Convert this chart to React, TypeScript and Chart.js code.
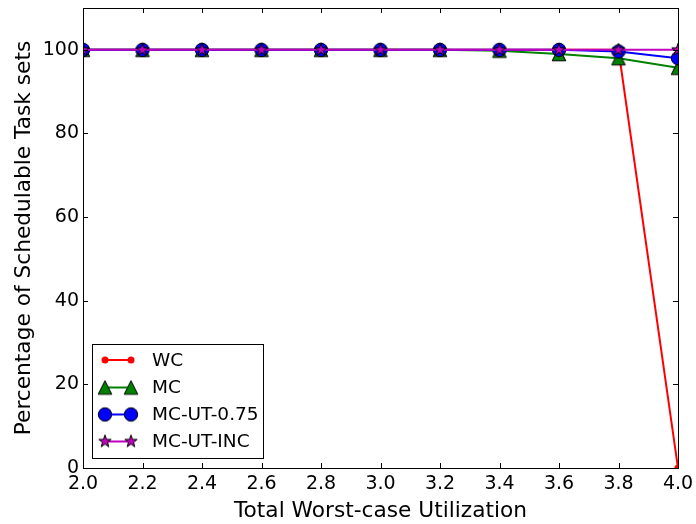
import React, { useEffect, useRef } from "react";
import { Chart, registerables } from "chart.js";

Chart.register(...registerables);

// Total worst-case utilization (x) and percentage of schedulable task sets (y)
const utilization = [2.0, 2.2, 2.4, 2.6, 2.8, 3.0, 3.2, 3.4, 3.6, 3.8, 4.0];
const wcValues = [100, 100, 100, 100, 100, 100, 100, 100, 100, 100, 0];
const mcValues = [100, 100, 100, 100, 100, 100, 100, 99.8, 99.0, 98.0, 95.7];
const mcUt075Values = [100, 100, 100, 100, 100, 100, 100, 100, 100, 99.6, 98.0];
const mcUtIncValues = [100, 100, 100, 100, 100, 100, 100, 100, 100, 100, 100];

const xTicks = [2.0, 2.2, 2.4, 2.6, 2.8, 3.0, 3.2, 3.4, 3.6, 3.8, 4.0];
const yTicks = [0, 20, 40, 60, 80, 100];

const seriesNames = ["WC", "MC", "MC-UT-0.75", "MC-UT-INC"];
const seriesColors = ["#ff0000", "#008000", "#0000ff", "#bf00bf"];

const FONT = "'DejaVu Sans', 'Liberation Sans', sans-serif";

type Shape = "dot" | "triangle" | "circle" | "star";
const seriesShapes: Shape[] = ["dot", "triangle", "circle", "star"];

function makeMarker(shape: Shape, color: string): HTMLCanvasElement {
  const size = 18;
  const c = document.createElement("canvas");
  c.width = size;
  c.height = size;
  const g = c.getContext("2d")!;
  const cx = size / 2;
  const cy = size / 2;
  g.fillStyle = color;
  g.strokeStyle = "#000";
  g.lineWidth = 1;
  g.beginPath();
  if (shape === "dot") {
    g.arc(cx, cy, 3.5, 0, Math.PI * 2);
    g.fill();
    return c;
  }
  if (shape === "circle") {
    g.arc(cx, cy, 6.7, 0, Math.PI * 2);
  } else if (shape === "triangle") {
    const h = 6.8;
    g.moveTo(cx, cy - h);
    g.lineTo(cx - h, cy + h);
    g.lineTo(cx + h, cy + h);
    g.closePath();
  } else {
    const ro = 6.5;
    const ri = ro * 0.4;
    for (let i = 0; i < 10; i++) {
      const r = i % 2 === 0 ? ro : ri;
      const a = -Math.PI / 2 + (i * Math.PI) / 5;
      const px = cx + r * Math.cos(a);
      const py = cy + r * Math.sin(a);
      if (i === 0) g.moveTo(px, py);
      else g.lineTo(px, py);
    }
    g.closePath();
  }
  g.fill();
  g.stroke();
  return c;
}

const axesFramePlugin = {
  id: "axesFrame",
  afterDatasetsDraw(chart: any) {
    const { ctx, chartArea, scales } = chart;
    const { left, right, top, bottom } = chartArea;
    const L = 5;
    ctx.save();
    ctx.strokeStyle = "#000";
    ctx.lineWidth = 1;
    ctx.beginPath();
    for (const v of xTicks) {
      const px = Math.round(scales.x.getPixelForValue(v)) + 0.5;
      ctx.moveTo(px, bottom);
      ctx.lineTo(px, bottom - L);
      ctx.moveTo(px, top);
      ctx.lineTo(px, top + L);
    }
    for (const v of yTicks) {
      const py = Math.round(scales.y.getPixelForValue(v)) + 0.5;
      ctx.moveTo(left, py);
      ctx.lineTo(left + L, py);
      ctx.moveTo(right, py);
      ctx.lineTo(right - L, py);
    }
    ctx.stroke();
    ctx.strokeRect(Math.round(left) + 0.5, Math.round(top) + 0.5, Math.round(right - left), Math.round(bottom - top));
    ctx.restore();
  },
  afterDraw(chart: any) {
    const { ctx } = chart;
    const bx = 92.5;
    const by = 344.5;
    const bw = 171;
    const bh = 114;
    ctx.save();
    ctx.fillStyle = "#fff";
    ctx.fillRect(bx, by, bw, bh);
    ctx.strokeStyle = "#000";
    ctx.lineWidth = 1;
    ctx.strokeRect(bx, by, bw, bh);
    const rowY = [360, 387.5, 414.5, 441.5];
    const x0 = 105;
    const x1 = 131;
    chart.data.datasets.forEach((ds: any, i: number) => {
      const y = rowY[i];
      ctx.strokeStyle = ds.borderColor;
      ctx.lineWidth = 2;
      ctx.beginPath();
      ctx.moveTo(x0, y);
      ctx.lineTo(x1, y);
      ctx.stroke();
      const img = ds.pointStyle as HTMLCanvasElement;
      ctx.drawImage(img, x0 - img.width / 2, y - img.height / 2);
      ctx.drawImage(img, x1 - img.width / 2, y - img.height / 2);
      ctx.fillStyle = "#000";
      ctx.font = `18.5px ${FONT}`;
      ctx.textBaseline = "middle";
      ctx.textAlign = "left";
      ctx.fillText(ds.label, 152, y + 1);
    });
    ctx.restore();
  },
};

export default function App() {
  const canvasRef = useRef<HTMLCanvasElement | null>(null);

  useEffect(() => {
    const canvas = canvasRef.current;
    if (!canvas) return;
    const seriesValues = [wcValues, mcValues, mcUt075Values, mcUtIncValues];
    const datasets = seriesNames.map((name, i) => ({
      label: name,
      data: utilization.map((u, k) => ({ x: u, y: seriesValues[i][k] })),
      borderColor: seriesColors[i],
      backgroundColor: seriesColors[i],
      borderWidth: 2,
      pointStyle: makeMarker(seriesShapes[i], seriesColors[i]),
      pointRadius: 6,
      tension: 0,
      clip: 0,
      order: seriesNames.length - i,
    }));

    const chart = new Chart(canvas, {
      type: "line",
      data: { datasets },
      options: {
        animation: false,
        responsive: false,
        maintainAspectRatio: false,
        layout: { padding: { top: 8, right: 18, left: 0, bottom: 0 } },
        plugins: { legend: { display: false }, tooltip: { enabled: false } },
        scales: {
          x: {
            type: "linear",
            min: 2,
            max: 4,
            afterBuildTicks: (s: any) => {
              s.ticks = xTicks.map((v) => ({ value: v }));
            },
            afterFit: (s: any) => {
              s.height = 56;
              s.paddingLeft = 0;
              s.paddingRight = 0;
            },
            ticks: {
              callback: (v: any) => Number(v).toFixed(1),
              font: { family: FONT, size: 19 },
              color: "#000",
              padding: 5,
              maxRotation: 0,
              autoSkip: false,
            },
            grid: { display: false, drawTicks: false },
            border: { display: false },
            title: {
              display: true,
              text: "Total Worst-case Utilization",
              font: { family: FONT, size: 21.7 },
              color: "#000",
              padding: { top: 0, bottom: 0 },
            },
          },
          y: {
            type: "linear",
            min: 0,
            max: 110,
            afterBuildTicks: (s: any) => {
              s.ticks = yTicks.map((v) => ({ value: v }));
            },
            afterFit: (s: any) => {
              s.width = 83;
              s.paddingTop = 0;
              s.paddingBottom = 0;
            },
            ticks: {
              callback: (v: any) => String(v),
              font: { family: FONT, size: 19 },
              color: "#000",
              padding: 4,
            },
            grid: { display: false, drawTicks: false },
            border: { display: false },
            title: {
              display: true,
              text: "Percentage of Schedulable Task sets",
              font: { family: FONT, size: 21.7 },
              color: "#000",
              padding: { top: 11, bottom: 0 },
            },
          },
        },
      },
      plugins: [axesFramePlugin],
    });
    return () => chart.destroy();
  }, []);

  return (
    <div style={{ position: "fixed", left: 0, top: 0, width: 696, height: 524, background: "#fff" }}>
      <canvas ref={canvasRef} width={696} height={524} style={{ display: "block" }} />
    </div>
  );
}
